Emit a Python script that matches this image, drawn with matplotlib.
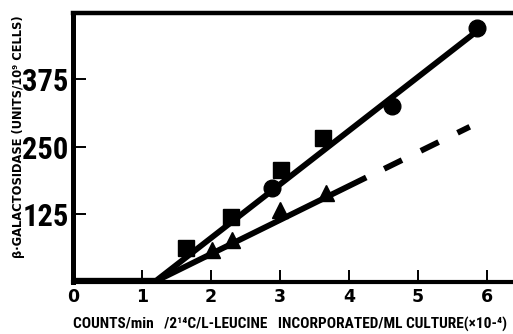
import matplotlib
matplotlib.use("Agg")
import matplotlib.pyplot as plt
from matplotlib import font_manager

# measured enzyme levels (units / 10^9 cells) against incorporated counts (x10^-4)
square_x = [1.64, 2.29, 3.02, 3.63]
square_y = [62, 120, 207, 267]
circle_x = [2.89, 4.62, 5.86]
circle_y = [173, 325, 470]
triangle_x = [2.01, 2.31, 3.00, 3.67]
triangle_y = [58, 77, 133, 164]

# fitted lines: flat lag, then linear rise
upper_fit_x = [0, 1.19, 5.86]
upper_fit_y = [0, 0, 465]
lower_fit_x = [1.19, 4.25]
lower_fit_y = [0, 193]
lower_extra_x = [4.51, 5.75]
lower_extra_y = [209, 287]

xticks = [0, 1, 2, 3, 4, 5, 6]
yticks = [125, 250, 375]


def pick_font(names):
    for name in names:
        try:
            font_manager.findfont(name, fallback_to_default=False)
            return name
        except ValueError:
            continue
    return "DejaVu Sans"


def fit_length(fig, txt, target_px, vertical=False):
    # grow or shrink a text until its long side is about target_px pixels
    renderer = fig.canvas.get_renderer()

    def length():
        bb = txt.get_window_extent(renderer)
        return bb.height if vertical else bb.width

    while length() < target_px and txt.get_fontsize() < 30:
        txt.set_fontsize(txt.get_fontsize() + 0.1)
    while length() > target_px and txt.get_fontsize() > 5:
        txt.set_fontsize(txt.get_fontsize() - 0.1)


narrow = pick_font(["Liberation Sans Narrow", "Roboto Condensed", "Open Sans Condensed",
                    "DejaVu Sans Condensed", "Noto Sans Condensed"])
has_narrow = narrow != "DejaVu Sans"

fig = plt.figure(figsize=(5.13, 3.34), dpi=100)
ax = fig.add_axes([73 / 513, 52.5 / 334, 441.6 / 513, 269 / 334])

ax.plot(upper_fit_x, upper_fit_y, color="black", lw=4.2, solid_capstyle="butt", zorder=3)
ax.plot(lower_fit_x, lower_fit_y, color="black", lw=4.2, solid_capstyle="butt", zorder=3)
ax.plot(upper_fit_x[:2], upper_fit_y[:2], color="black", lw=6, solid_capstyle="butt", zorder=3)
ax.plot(lower_extra_x, lower_extra_y, color="black", lw=4.2,
        linestyle=(0, (3.4, 3.6)), dash_capstyle="butt", zorder=3)

ax.plot(square_x, square_y, "s", color="black", ms=12, zorder=4)
ax.plot(circle_x, circle_y, "o", color="black", ms=12, zorder=4)
ax.plot(triangle_x, triangle_y, "^", color="black", ms=11, zorder=4)

ax.set_xlim(0, 6.4)
ax.set_ylim(0, 499)

ax.spines["right"].set_visible(False)
ax.spines["left"].set_linewidth(3.6)
ax.spines["top"].set_linewidth(3.2)
ax.spines["bottom"].set_linewidth(3.0)

ax.set_xticks(xticks)
ax.set_xticklabels([str(t) for t in xticks], fontsize=12.5, fontweight="bold",
                   family="DejaVu Sans")
ax.set_yticks(yticks)
ax.set_yticklabels([str(t) for t in yticks], fontsize=22 if has_narrow else 15,
                   fontweight="bold", family=narrow, fontstretch="condensed")
ax.tick_params(axis="x", direction="in", length=9, width=1.4, pad=5)
ax.tick_params(axis="y", direction="in", length=9.5, width=1.4, pad=3)

xlab = fig.text(73 / 513, 10 / 334,
                "COUNTS/min   /2\u00b9\u2074C/L-LEUCINE   INCORPORATED/ML CULTURE(\u00d710-\u2074)",
                fontsize=10, fontweight="bold", family=[narrow, "DejaVu Sans"],
                fontstretch="condensed", ha="left", va="center")
ylab = fig.text(19 / 513, (334 - 137) / 334,
                "\u03b2\u00b7GALACTOSIDASE (UNITS/10\u2079 CELLS)",
                fontsize=7.5, fontweight="bold", family="DejaVu Sans",
                rotation=90, ha="center", va="center")
fit_length(fig, xlab, 436)
fit_length(fig, ylab, 246, vertical=True)

fig.savefig("out.png", dpi=100)
